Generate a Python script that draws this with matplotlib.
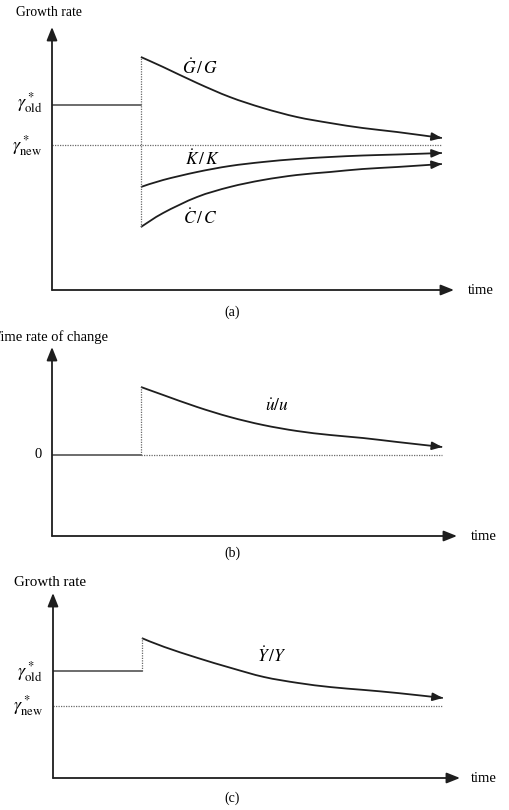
import matplotlib
matplotlib.use("Agg")
import matplotlib.pyplot as plt
from matplotlib.path import Path
from matplotlib.patches import PathPatch
import numpy as np

plt.rcParams['font.family'] = ['Liberation Serif', 'DejaVu Serif']
plt.rcParams['mathtext.fontset'] = 'stix'

# ---------------- data ----------------
t_shock = 2.28
t_end = 10.0
t_curve = [2.28, 2.85, 3.72, 4.56, 5.41, 6.28, 7.13, 7.97, 8.85, 10.0]

# panel (a): growth rates
gamma_old_a = 2.0
gamma_new_a = 1.0
G_rate = [3.2, 2.95, 2.55, 2.2, 1.925, 1.7, 1.55, 1.425, 1.325, 1.175]
K_rate = [-0.05, 0.125, 0.325, 0.475, 0.575, 0.65, 0.70, 0.7375, 0.7625, 0.80]
C_rate = [-1.05, -0.70, -0.30, -0.05, 0.125, 0.25, 0.325, 0.40, 0.45, 0.525]

# panel (b): time rate of change of u
u_zero = 0.0
u_rate = [1.7, 1.5, 1.2, 0.95, 0.75, 0.6, 0.5, 0.425, 0.325, 0.2]

# panel (c): output growth
gamma_old_c = 2.0
gamma_new_c = 1.0
Y_rate = [2.94, 2.69, 2.37, 2.09, 1.83, 1.66, 1.54, 1.46, 1.37, 1.23]

# ---------------- figure ----------------
W, H = 510, 810
fig = plt.figure(figsize=(W / 100, H / 100), dpi=100)

def px_axes(l, r, b, t):
    return fig.add_axes([l / W, 1 - b / H, (r - l) / W, (b - t) / H])

LC = '#1e1e1e'
DOT = '#6a6a6a'

def setup(ax, xlim, ylim):
    ax.set_xlim(*xlim)
    ax.set_ylim(*ylim)
    for s in ax.spines.values():
        s.set_visible(False)
    ax.set_xticks([])
    ax.set_yticks([])
    ax.patch.set_alpha(0)
    ap = dict(arrowstyle='-|>,head_length=0.8,head_width=0.32', lw=1.3,
              color=LC, shrinkA=0, shrinkB=0, mutation_scale=10)
    ax.annotate('', xy=(1, 0), xytext=(0, 0), xycoords='axes fraction',
                textcoords='axes fraction', arrowprops=ap, annotation_clip=False)
    ax.annotate('', xy=(0, 1), xytext=(0, 0), xycoords='axes fraction',
                textcoords='axes fraction', arrowprops=ap, annotation_clip=False)

def curve(ax, t, y):
    # smooth Bezier path (Catmull-Rom control points) through the read points
    p = np.column_stack([t, y]).astype(float)
    n = len(p)
    verts = [p[0]]
    codes = [Path.MOVETO]
    for i in range(n - 1):
        p0 = p[max(i - 1, 0)]
        p1 = p[i]
        p2 = p[i + 1]
        p3 = p[min(i + 2, n - 1)]
        c1 = p1 + (p2 - p0) / 6.0
        c2 = p2 - (p3 - p1) / 6.0
        verts += [c1, c2, p2]
        codes += [Path.CURVE4] * 3
    patch = PathPatch(Path(verts, codes), facecolor='none', edgecolor=LC,
                      lw=1.3, clip_on=False, capstyle='butt')
    ax.add_patch(patch)
    # arrowhead aligned with the end tangent
    d = p[-1] - p[-2]
    start = p[-1] - 0.2 * d
    ax.annotate('', xy=tuple(p[-1]), xytext=tuple(start),
                arrowprops=dict(arrowstyle='-|>,head_length=0.6,head_width=0.24',
                                lw=1.3, color=LC, shrinkA=0, shrinkB=0,
                                mutation_scale=10),
                annotation_clip=False)

def left_label(ax, y, s, size=13, dy=0):
    ax.text(-0.025, y + dy, s, transform=ax.get_yaxis_transform(),
            ha='right', va='center', fontsize=size)

# ----- panel (a)
ax = px_axes(52, 454, 290, 27)
setup(ax, (0, 10.31), (-2.625, 3.95))
ax.plot([0, t_shock], [gamma_old_a, gamma_old_a], color='#444444', lw=1.1)
ax.plot([0, t_end], [gamma_new_a, gamma_new_a], color=DOT, lw=0.9, ls=(0, (1, 1)))
ax.plot([t_shock, t_shock], [C_rate[0], G_rate[0]], color=DOT, lw=0.9, ls=(0, (1, 1)))
curve(ax, t_curve, G_rate)
curve(ax, t_curve, K_rate)
curve(ax, t_curve, C_rate)
ax.text(3.8, 2.93, r'$\dot{G}\,/\,G$', ha='center', va='center', fontsize=12.5)
ax.text(3.85, 0.64, r'$\dot{K}\,/\,K$', ha='center', va='center', fontsize=12.5)
ax.text(3.8, -0.83, r'$\dot{C}\,/\,C$', ha='center', va='center', fontsize=12.5)
left_label(ax, gamma_old_a, r'$\gamma^*_{\mathrm{old}}$', dy=0.05)
left_label(ax, gamma_new_a, r'$\gamma^*_{\mathrm{new}}$', dy=-0.02)
fig.text(16 / W, 1 - 13 / H, 'Growth rate', ha='left', va='center', fontsize=9.8)
fig.text(468 / W, 1 - 291 / H, 'time', ha='left', va='center', fontsize=10.5)
fig.text(232 / W, 1 - 312 / H, '(a)', ha='center', va='center', fontsize=10)

# ----- panel (b)
ax = px_axes(52, 457, 536, 347)
setup(ax, (0, 10.38), (-2.025, 2.7))
ax.plot([0, t_shock], [u_zero, u_zero], color='#444444', lw=1.1)
ax.plot([t_shock, t_end], [u_zero, u_zero], color=DOT, lw=0.9, ls=(0, (1, 1)))
ax.plot([t_shock, t_shock], [u_zero, u_rate[0]], color=DOT, lw=0.9, ls=(0, (1, 1)))
curve(ax, t_curve, u_rate)
ax.text(5.77, 1.2, r'$\dot{u}/u$', ha='center', va='center', fontsize=12.5)
left_label(ax, u_zero, '0', size=10.5)
fig.text(-8 / W, 1 - 337 / H, 'Time rate of change', ha='left', va='center', fontsize=10.5)
fig.text(471 / W, 1 - 537 / H, 'time', ha='left', va='center', fontsize=10.5)
fig.text(232 / W, 1 - 553 / H, '(b)', ha='center', va='center', fontsize=10)

# ----- panel (c)
ax = px_axes(53, 460, 778, 593)
setup(ax, (0, 10.44), (-1.057, 4.23))
ax.plot([0, t_shock], [gamma_old_c, gamma_old_c], color='#444444', lw=1.1)
ax.plot([0, t_end], [gamma_new_c, gamma_new_c], color=DOT, lw=0.9, ls=(0, (1, 1)))
ax.plot([t_shock, t_shock], [gamma_old_c, Y_rate[0]], color=DOT, lw=0.9, ls=(0, (1, 1)))
curve(ax, t_curve, Y_rate)
ax.text(5.62, 2.43, r'$\dot{Y}\,/Y$', ha='center', va='center', fontsize=12.5)
left_label(ax, gamma_old_c, r'$\gamma^*_{\mathrm{old}}$')
left_label(ax, gamma_new_c, r'$\gamma^*_{\mathrm{new}}$')
fig.text(14 / W, 1 - 582 / H, 'Growth rate', ha='left', va='center', fontsize=10.8)
fig.text(471 / W, 1 - 779 / H, 'time', ha='left', va='center', fontsize=10.5)
fig.text(232 / W, 1 - 798 / H, '(c)', ha='center', va='center', fontsize=10)

fig.savefig('out.png', dpi=100)
